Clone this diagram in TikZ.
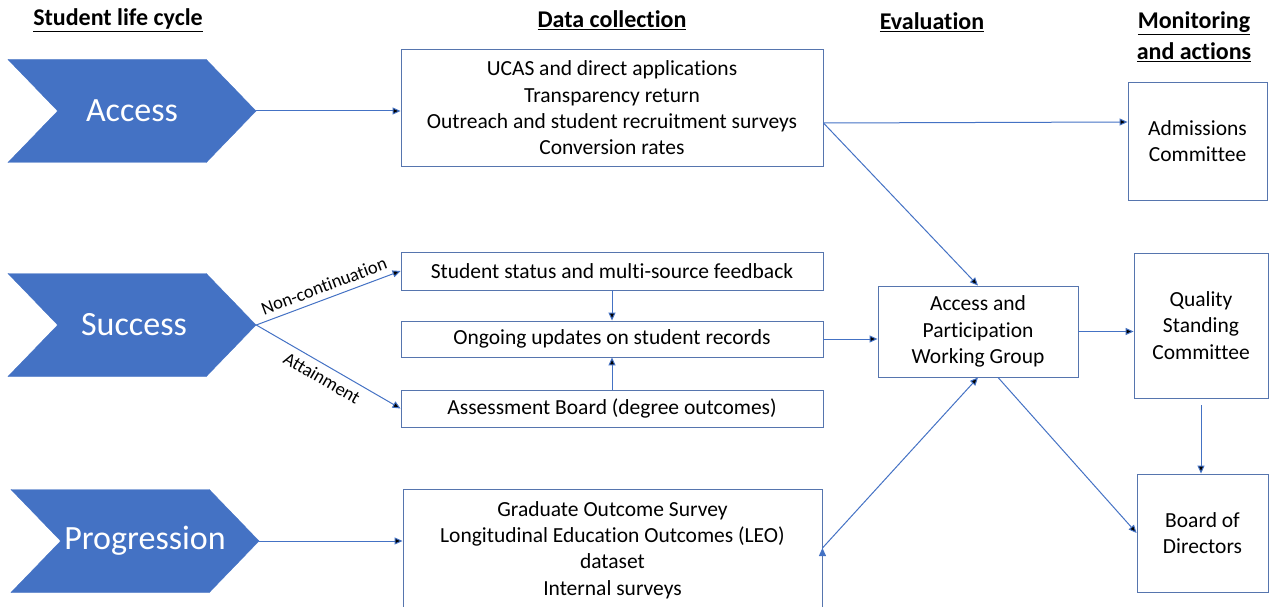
\documentclass[tikz,border=0pt]{standalone}
\usepackage{fontspec}
\setmainfont{Carlito}[Ligatures=CommonOff]
\usetikzlibrary{positioning,shapes.symbols,arrows.meta}
\definecolor{officeblue}{HTML}{4472C4}
\definecolor{boxline}{HTML}{5675AE}

\begin{document}
\begin{tikzpicture}[x=1pt,y=-1pt,>={Triangle[length=8pt,width=7pt]},
                    every node/.style={font=\fontsize{21.5}{26.3}\selectfont}]
  \tikzstyle{stage}=[signal,signal to=east,signal from=west,signal pointer angle=92,
                     fill=officeblue,draw=officeblue,text=white,inner sep=0pt,
                     minimum width=248,minimum height=103,font=\fontsize{34}{40}\selectfont]
  \tikzstyle{databox}=[draw=boxline,line width=0.9pt,align=center,inner sep=0pt]
  \tikzstyle{head}=[font=\fontsize{24}{31}\selectfont\bfseries,align=center]
  \tikzstyle{link}=[->,draw=officeblue,line width=1pt]
  \tikzstyle{lbl}=[font=\fontsize{18.5}{20}\selectfont,sloped,inner sep=6pt]

  \useasboundingbox (0,0) rectangle (1269,607);
  \clip (0,0) rectangle (1269,607);

  % column headings
  \node[head] (hlife) at (118,20)  {\underline{Student life cycle}};
  \node[head] (hdata) at (612,20)  {\underline{Data collection}};
  \node[head] (heval) at (932,22)  {\underline{Evaluation}};
  \node[head] (hmon)  at (1194,37) {\underline{Monitoring}\\\underline{and actions}};

  % life cycle stages
  \node[stage] (acc)  at (132,111) {\makebox[0pt]{Access}};
  \node[stage] (suc)  at (132,325) {\makebox[0pt]{\hspace*{4pt}Success}};
  \node[stage] (prog) at (135,541) {\makebox[0pt]{\hspace*{20pt}Progression}};

  % data collection
  \node[databox,minimum width=422,minimum height=117] (accbox) at (612,108)
       {UCAS and direct applications\\Transparency return\\
        Outreach and student recruitment surveys\\Conversion rates};
  \node[databox,minimum width=422,minimum height=38] (status) at (612,271)
       {Student status and multi-source feedback};
  \node[databox,minimum width=422,minimum height=36] (ongoing) at (612,339)
       {Ongoing updates on student records};
  \node[databox,minimum width=422,minimum height=37] (assess) at (612,408.5)
       {Assessment Board (degree outcomes)};
  \node[databox,minimum width=419,minimum height=122] (progbox) at (612.5,550)
       {Graduate Outcome Survey\\Longitudinal Education Outcomes (LEO)\\
        dataset\\Internal surveys};

  % evaluation
  \node[databox,minimum width=200,minimum height=91] (apwg) at (978,331.5)
       {Access and\\Participation\\Working Group};

  % monitoring and actions
  \node[databox,minimum width=139,minimum height=118] (adm) at (1197.5,141)
       {Admissions\\Committee};
  \node[databox,minimum width=134,minimum height=145] (qsc) at (1201,325.5)
       {Quality\\Standing\\Committee};
  \node[databox,minimum width=131,minimum height=118] (bod) at (1202.5,533)
       {Board of\\Directors};

  \path[link] (acc.east)  edge (accbox.west |- acc.east)
              ([yshift=-15pt]accbox.east) edge ([yshift=19pt]adm.west)
              ([yshift=-15pt]accbox.east) edge (apwg.north)
              (suc.east)  edge node[lbl,above] {Non-continuation} (status.west)
              (suc.east)  edge node[lbl,below] {Attainment} (assess.west)
              (status.south) edge (ongoing.north)
              (assess.north) edge (ongoing.south)
              (ongoing.east) edge (apwg.west |- ongoing.east)
              (apwg.east) edge (qsc.west |- apwg.east)
              (qsc.south) edge[shorten <=7pt] (bod.north -| qsc.south)
              ([xshift=20pt]apwg.south) edge (bod.west)
              (prog.east) edge (progbox.west |- prog.east)
              ([yshift=2pt]progbox.east) edge (apwg.south);
\end{tikzpicture}
\end{document}
